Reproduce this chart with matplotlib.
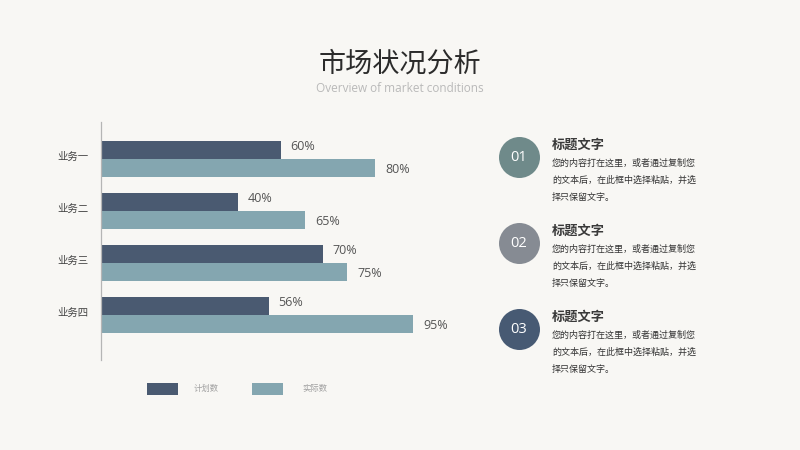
import matplotlib
matplotlib.use("Agg")
import matplotlib.pyplot as plt
import matplotlib.transforms as mtransforms
from matplotlib.patches import Rectangle, Ellipse

plt.rcParams['font.family'] = ['Noto Sans CJK SC', 'DejaVu Sans']

categories = ["业务一", "业务二", "业务三", "业务四"]
series_names = ["计划数", "实际数"]
plan_lengths = [52.5, 40, 64.7, 49]
actual_lengths = [80, 59.5, 71.7, 91]
plan_labels = ["60%", "40%", "70%", "56%"]
actual_labels = ["80%", "65%", "75%", "95%"]
item_numbers = ["01", "02", "03"]
item_title = "标题文字"
item_body = ["您的内容打在这里，或者通过复制您", "的文本后，在此框中选择粘贴，并选", "择只保留文字。"]

BG = "#f8f7f4"
C_PLAN = "#4a5a71"
C_ACT = "#84a6b0"
CIRCLE_COLORS = ["#6f8a8a", "#868b93", "#475a73"]

W, H = 800, 450
fig = plt.figure(figsize=(8, 4.5), dpi=100, facecolor=BG)

def fx(px):
    return px / W

def fy(py):
    return 1 - py / H

# title
fig.text(fx(400), fy(64), "市场状况分析", ha="center", va="center", fontsize=19.5, color="#2b2b2b")
fig.text(fx(400), fy(88), "Overview of market conditions", ha="center", va="center",
         fontsize=8.5, color="#b9b9b9", family=["Open Sans", "DejaVu Sans"])

# axes
ax = fig.add_axes([fx(101), fy(360), fx(343), (360 - 122) / H])
ax.set_facecolor(BG)
ax.set_xlim(0, 100)
ax.set_ylim(3.875, -0.702)
bh = 18 / 52
off = 9 / 52
ys = list(range(len(categories)))
ax.barh([y - off for y in ys], plan_lengths, height=bh, color=C_PLAN, label=series_names[0])
ax.barh([y + off for y in ys], actual_lengths, height=bh, color=C_ACT, label=series_names[1])
for y, v, t in zip(ys, plan_lengths, plan_labels):
    ax.text(v + 2.8, y - off - 0.06, t, ha="left", va="center", fontsize=9, color="#555555",
            family=["Open Sans", "DejaVu Sans"])
for y, v, t in zip(ys, actual_lengths, actual_labels):
    ax.text(v + 3, y + off + 0.04, t, ha="left", va="center", fontsize=9, color="#555555",
            family=["Open Sans", "DejaVu Sans"])
ax.set_yticks(ys)
ax.set_yticklabels(categories, fontsize=7.5, color="#444444")
ax.tick_params(axis="y", length=0, pad=9)
shift = mtransforms.ScaledTranslation(0, 3 / 100, fig.dpi_scale_trans)
for lbl in ax.get_yticklabels():
    lbl.set_transform(lbl.get_transform() + shift)
ax.set_xticks([])
for s in ["top", "right", "bottom"]:
    ax.spines[s].set_visible(False)
ax.spines["left"].set_color("#b5b5b5")
ax.spines["left"].set_linewidth(0.9)

# legend (manual)
for x0, c, name, tx in [(147, C_PLAN, series_names[0], 194), (252, C_ACT, series_names[1], 302)]:
    fig.add_artist(Rectangle((fx(x0), fy(395)), fx(31), 12 / H, transform=fig.transFigure,
                             facecolor=c, edgecolor="none"))
    fig.text(fx(tx), fy(389), name, ha="left", va="center", fontsize=6, color="#a0a0a0")

# right-side items
centers = [157.5, 243.5, 329.5]
R = 20.5
for num, cy, col in zip(item_numbers, centers, CIRCLE_COLORS):
    fig.add_artist(Ellipse((fx(519.5), fy(cy)), 2 * R / W, 2 * R / H, transform=fig.transFigure,
                           facecolor=col, edgecolor="none"))
    fig.text(fx(518.5), fy(cy), num, ha="center", va="center", fontsize=10.5, color="white",
             family=["Open Sans", "DejaVu Sans"])
    fig.text(fx(552), fy(cy - 13), item_title, ha="left", va="center", fontsize=9.5,
             color="#3a3a3a", fontweight="bold")
    for i, line in enumerate(item_body):
        fig.text(fx(552), fy(cy + 6 + i * 17), line, ha="left", va="center", fontsize=6.5,
                 color="#333333")

fig.savefig("out.png", dpi=100, facecolor=BG)
